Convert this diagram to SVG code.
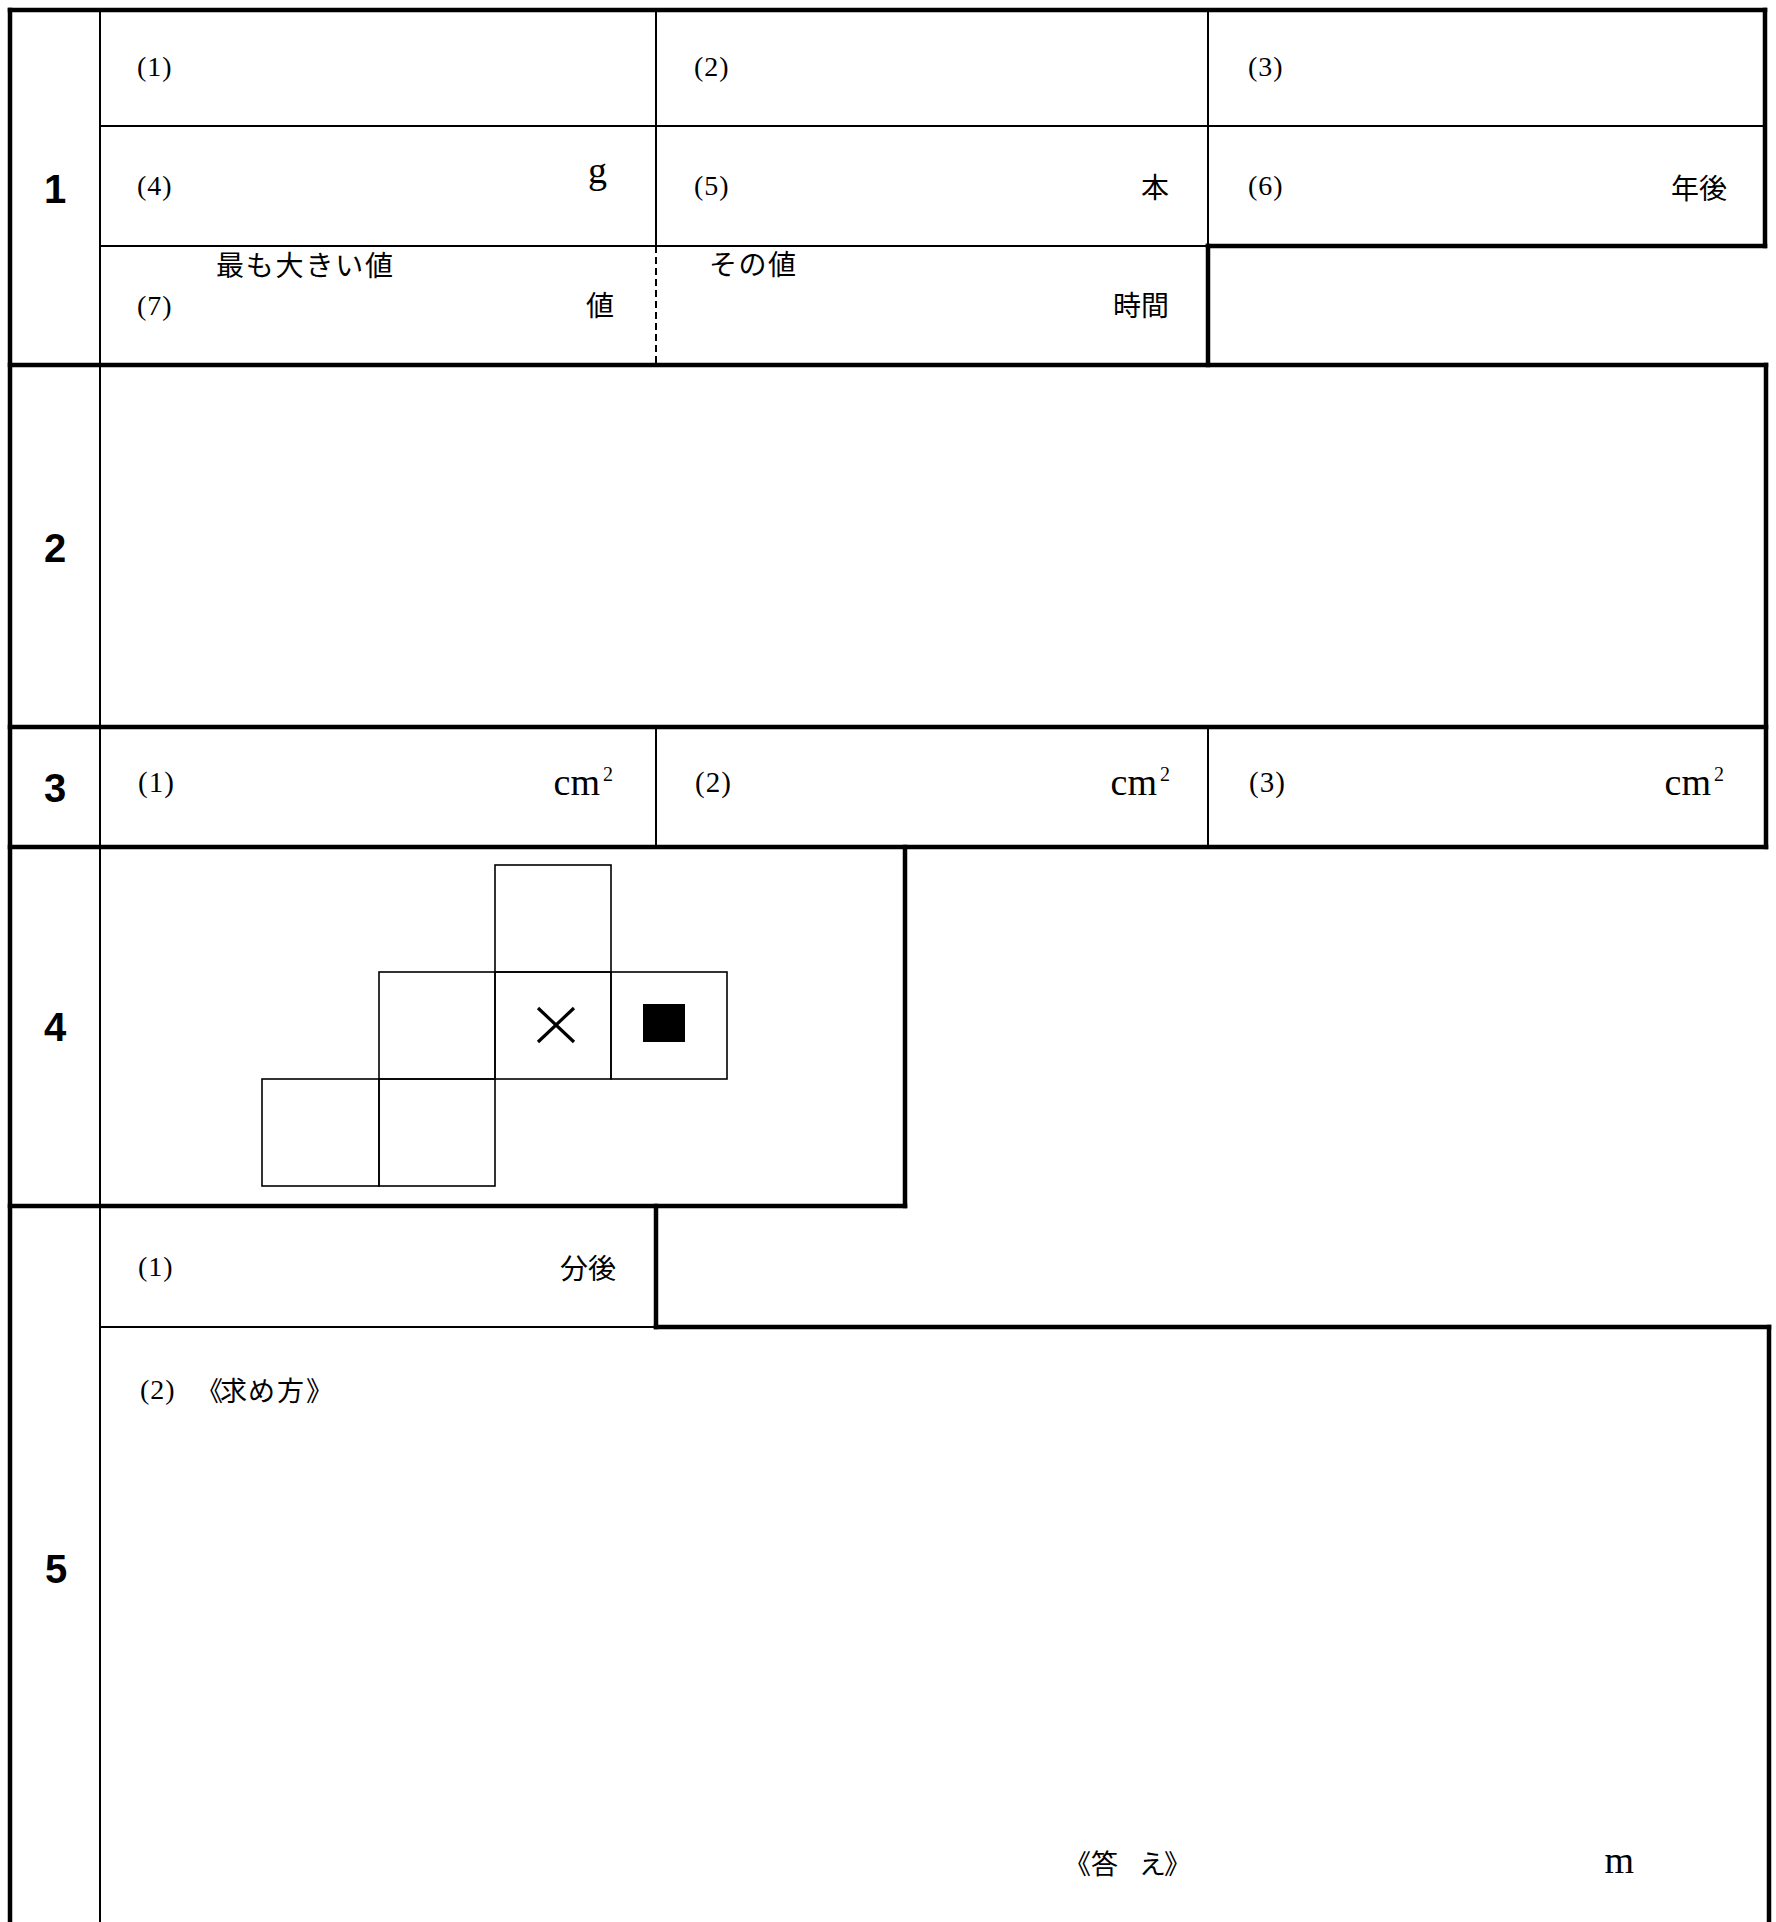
<svg xmlns="http://www.w3.org/2000/svg" width="1776" height="1922" viewBox="0 0 1776 1922">
<style>
.thick{stroke:#000;stroke-width:4.5;fill:none;stroke-linecap:square}
.thin{stroke:#000;stroke-width:2;fill:none}
.dash{stroke:#000;stroke-width:2;fill:none;stroke-dasharray:7 4}
.fig{stroke:#000;stroke-width:1.6;fill:none}
.num{font-family:"Liberation Sans",Arial,sans-serif;font-weight:bold;font-size:40px;text-anchor:middle}
.lab{font-family:"Liberation Serif","Times New Roman",serif;font-size:28px;letter-spacing:1px}
.lab3{font-family:"Liberation Serif","Times New Roman",serif;font-size:29px;letter-spacing:1px}
.unit{font-family:"Liberation Serif","Times New Roman",serif;font-size:38px}
.sup{font-family:"Liberation Serif","Times New Roman",serif;font-size:20px}
.jp{font-family:"Noto Sans CJK JP","Noto Sans CJK SC",sans-serif;font-size:28px}
.jps{font-family:"Noto Sans CJK JP","Noto Sans CJK SC",sans-serif;font-size:27px}
.end{text-anchor:end}
</style>
<rect x="0" y="0" width="1776" height="1922" fill="#fff"/>
<g id="connectors">
  <line class="thick" x1="10" y1="10" x2="1765" y2="10"/>
  <line class="thick" x1="1765" y1="10" x2="1765" y2="246"/>
  <line class="thick" x1="1208" y1="246" x2="1765" y2="246"/>
  <line class="thick" x1="1208" y1="246" x2="1208" y2="365"/>
  <line class="thick" x1="10" y1="365" x2="1766" y2="365"/>
  <line class="thick" x1="1766" y1="365" x2="1766" y2="847"/>
  <line class="thick" x1="10" y1="727" x2="1766" y2="727"/>
  <line class="thick" x1="10" y1="847" x2="1766" y2="847"/>
  <line class="thick" x1="905" y1="847" x2="905" y2="1206"/>
  <line class="thick" x1="10" y1="1206" x2="905" y2="1206"/>
  <line class="thick" x1="656" y1="1206" x2="656" y2="1327"/>
  <line class="thick" x1="656" y1="1327" x2="1769" y2="1327"/>
  <line class="thick" x1="1769" y1="1327" x2="1769" y2="1930"/>
  <line class="thick" x1="10" y1="10" x2="10" y2="1930"/>
  <line class="thin" x1="100" y1="10" x2="100" y2="1930"/>
  <line class="thin" x1="100" y1="126" x2="1765" y2="126"/>
  <line class="thin" x1="100" y1="246" x2="1208" y2="246"/>
  <line class="thin" x1="656" y1="10" x2="656" y2="246"/>
  <line class="dash" x1="656" y1="246" x2="656" y2="365"/>
  <line class="thin" x1="1208" y1="10" x2="1208" y2="246"/>
  <line class="thin" x1="656" y1="727" x2="656" y2="847"/>
  <line class="thin" x1="1208" y1="727" x2="1208" y2="847"/>
  <line class="thin" x1="100" y1="1327" x2="656" y2="1327"/>
</g>
<g id="q1">
  <text class="num" x="55" y="203">1</text>
  <text class="lab" x="137" y="76">(1)</text>
  <text class="lab" x="694" y="76">(2)</text>
  <text class="lab" x="1248" y="76">(3)</text>
  <text class="lab" x="137" y="195">(4)</text>
  <text class="unit end" x="607" y="183">g</text>
  <text class="lab" x="694" y="195">(5)</text>
  <text class="jp end" x="1169" y="198">本</text>
  <text class="lab" x="1248" y="195">(6)</text>
  <text class="jp end" x="1727" y="199">年後</text>
  <text class="jp" x="216" y="276" textLength="177" lengthAdjust="spacing">最も大きい値</text>
  <text class="lab" x="137" y="315">(7)</text>
  <text class="jp end" x="614" y="316">値</text>
  <text class="jp" x="709" y="275" textLength="87" lengthAdjust="spacing">その値</text>
  <text class="jp end" x="1169" y="316">時間</text>
</g>
<g id="q2">
  <text class="num" x="55" y="562">2</text>
</g>
<g id="q3">
  <text class="num" x="55" y="802">3</text>
  <text class="lab3" x="138" y="792">(1)</text>
  <text class="unit end" x="600" y="795">cm</text>
  <text class="sup" x="603" y="781">2</text>
  <text class="lab3" x="695" y="792">(2)</text>
  <text class="unit end" x="1157" y="795">cm</text>
  <text class="sup" x="1160" y="781">2</text>
  <text class="lab3" x="1249" y="792">(3)</text>
  <text class="unit end" x="1711" y="795">cm</text>
  <text class="sup" x="1714" y="781">2</text>
</g>
<g id="q4">
  <text class="num" x="55" y="1041">4</text>
  <rect class="fig" x="495" y="865" width="116" height="107"/>
  <rect class="fig" x="379" y="972" width="116" height="107"/>
  <rect class="fig" x="495" y="972" width="116" height="107"/>
  <rect class="fig" x="611" y="972" width="116" height="107"/>
  <rect class="fig" x="262" y="1079" width="117" height="107"/>
  <rect class="fig" x="379" y="1079" width="116" height="107"/>
  <path d="M538,1008 L574,1042 M574,1008 L538,1042" stroke="#000" stroke-width="3.2" fill="none"/>
  <rect x="643" y="1004" width="42" height="38" fill="#000"/>
</g>
<g id="q5">
  <text class="num" x="56" y="1583">5</text>
  <text class="lab" x="138" y="1276">(1)</text>
  <text class="jp end" x="616" y="1279">分後</text>
  <text class="lab" x="140" y="1399">(2)</text>
  <text class="jps" x="196 220 248 277 306" y="1401">《求め方》</text>
  <text class="jps" x="1064 1091 1118 1139 1164" y="1874">《答 え》</text>
  <text class="unit end" x="1634" y="1873">m</text>
</g>
</svg>
